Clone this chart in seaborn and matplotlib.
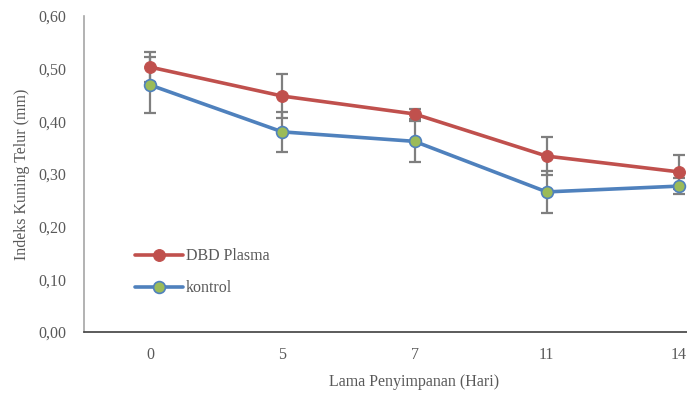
import matplotlib
matplotlib.use("Agg")
import matplotlib.pyplot as plt
import seaborn as sns
import pandas as pd
import numpy as np

days = ["0", "5", "7", "11", "14"]
dbd = [0.503, 0.448, 0.414, 0.334, 0.304]
dbd_err = [0.028, 0.042, 0.009, 0.036, 0.032]
kontrol = [0.469, 0.380, 0.362, 0.266, 0.277]
kontrol_err = [0.053, 0.038, 0.039, 0.040, 0.015]

sns.set_theme(style="white")
plt.rcParams['font.family'] = ['Liberation Serif', 'DejaVu Serif']

pos = np.arange(len(days))
df = pd.DataFrame({
    "pos": np.concatenate([pos, pos]),
    "val": dbd + kontrol,
    "series": ["DBD Plasma"] * len(days) + ["kontrol"] * len(days),
})

fig = plt.figure(figsize=(6.87, 3.94), dpi=100)
ax = fig.add_axes([84/687, 62/394, 661/687, 316/394])

grey = "#595959"
ax.errorbar(pos, dbd, yerr=dbd_err, fmt="none", ecolor="#7f7f7f", elinewidth=1.6, capsize=4, capthick=1.6, zorder=1)
ax.errorbar(pos, kontrol, yerr=kontrol_err, fmt="none", ecolor="#7f7f7f", elinewidth=1.6, capsize=4, capthick=1.6, zorder=1)

sns.lineplot(data=df[df.series == "DBD Plasma"], x="pos", y="val", color="#C0504D",
             linewidth=2.6, marker="o", markersize=8.5, markerfacecolor="#C0504D",
             markeredgecolor="#C0504D", label="DBD Plasma", ax=ax, zorder=3)
sns.lineplot(data=df[df.series == "kontrol"], x="pos", y="val", color="#4F81BD",
             linewidth=2.6, marker="o", markersize=8.5, markerfacecolor="#9BBB59",
             markeredgecolor="#4F81BD", markeredgewidth=1.2, label="kontrol", ax=ax, zorder=3)

ax.set_xlim(-0.5, 4.5)
ax.set_ylim(0, 0.60)
ax.set_xticks(pos)
ax.set_xticklabels(days)
yt = np.arange(0, 0.61, 0.10)
ax.set_yticks(yt)
ax.set_yticklabels([f"{v:.2f}".replace(".", ",") for v in yt])
ax.tick_params(axis="both", length=0, colors=grey, labelsize=11.5)
ax.tick_params(axis="x", pad=11)
ax.tick_params(axis="y", pad=13)

for s in ["top", "right"]:
    ax.spines[s].set_visible(False)
ax.spines["left"].set_color("#a6a6a6")
ax.spines["left"].set_linewidth(1.2)
ax.spines["bottom"].set_color("#404040")
ax.spines["bottom"].set_linewidth(1.2)

ax.set_xlabel("Lama Penyimpanan (Hari)", color=grey, fontsize=11.5, labelpad=8)
ax.set_ylabel("Indeks Kuning Telur (mm)", color=grey, fontsize=11.5, labelpad=6)

leg = ax.legend(loc="upper left", bbox_to_anchor=(0.055, 0.31), frameon=False,
                fontsize=11.5, labelcolor=grey, handlelength=3, handletextpad=0.2, labelspacing=1.0)

fig.savefig("out.png", dpi=100)
